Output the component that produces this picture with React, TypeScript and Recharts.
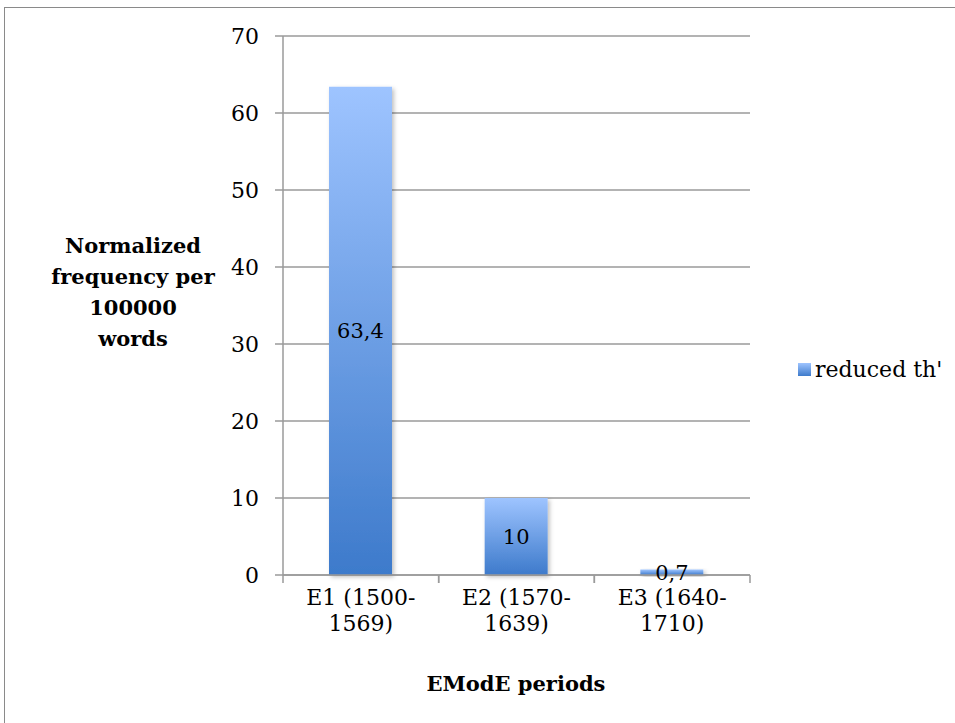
import React from 'react';
import { BarChart, Bar, XAxis, YAxis, CartesianGrid, Legend, LabelList } from 'recharts';

const periods = ['E1 (1500-1569)', 'E2 (1570-1639)', 'E3 (1640-1710)'];
const reducedTh = [63.4, 10, 0.7];
const yTicks = [0, 10, 20, 30, 40, 50, 60, 70];
const yLabelLines = ['Normalized', 'frequency per', '100000', 'words'];

const FONT = '"DejaVu Serif", serif';
const GRID = '#9a9a9a';

const chartData = periods.map((p, i) => ({ period: p, value: reducedTh[i] }));

const fmt = (v: any) => String(v).replace('.', ',');

// category label in two lines, plus tick marks at the category edges
const PeriodTick = (props: any) => {
  const { x, y, payload } = props;
  const half = payload.offset || 77.8;
  const txt: string = payload.value;
  const cut = txt.indexOf('-') + 1;
  const lines = [txt.slice(0, cut), txt.slice(cut)];
  return (
    <g>
      <line x1={x - half} x2={x - half} y1={y} y2={y + 8} stroke={GRID} strokeWidth={1.5} />
      <line x1={x + half} x2={x + half} y1={y} y2={y + 8} stroke={GRID} strokeWidth={1.5} />
      <text x={x} y={y} textAnchor="middle" fontFamily={FONT} fontSize={22} fill="#000">
        {lines.map((l, i) => (
          <tspan key={i} x={x} dy={i === 0 ? 30 : 26}>{l}</tspan>
        ))}
      </text>
    </g>
  );
};

const YLabel = () => (
  <text x={133} y={253} textAnchor="middle" fontFamily={FONT} fontSize={21} fontWeight="bold" fill="#000">
    {yLabelLines.map((l, i) => (
      <tspan key={i} x={133} dy={i === 0 ? 0 : 31}>{l}</tspan>
    ))}
  </text>
);

const XLabel = () => (
  <text x={516} y={691} textAnchor="middle" fontFamily={FONT} fontSize={21} fontWeight="bold" fill="#000">
    EModE periods
  </text>
);

const LegendBox = () => (
  <div style={{ display: 'flex', alignItems: 'center', fontFamily: FONT, fontSize: 22 }}>
    <span style={{ display: 'inline-block', width: 13, height: 13, marginRight: 4,
      background: 'linear-gradient(#9ec4ff, #3e7bcb)' }} />
    <span>reduced th'</span>
  </div>
);

export default function App() {
  return (
    <div style={{ position: 'absolute', left: 0, top: 0, width: 955, height: 723, background: '#fff' }}>
      <div style={{ position: 'absolute', left: 4, top: 7, width: 951, height: 716,
        borderLeft: '1px solid #8a8a8a', borderTop: '1px solid #8a8a8a' }} />
      <BarChart width={955} height={723} data={chartData}
        margin={{ top: 36, right: 205, bottom: 68, left: 0 }} barSize={63}>
        <defs>
          <linearGradient id="barGrad" x1="0" y1="0" x2="0" y2="1">
            <stop offset="0%" stopColor="#9ec4ff" />
            <stop offset="100%" stopColor="#3d7acb" />
          </linearGradient>
          <filter id="barShadow" x="-20%" y="-20%" width="140%" height="140%">
            <feDropShadow dx="2" dy="2" stdDeviation="2" floodColor="#000" floodOpacity="0.25" />
          </filter>
        </defs>
        <CartesianGrid vertical={false} stroke={GRID} strokeWidth={1.5} />
        <XAxis dataKey="period" height={80} interval={0} tick={<PeriodTick />}
          tickSize={0} tickMargin={0}
          axisLine={{ stroke: GRID, strokeWidth: 1.5 }} tickLine={false}
          label={<XLabel />} />
        <YAxis width={283} domain={[0, 70]} ticks={yTicks} interval={0}
          tick={{ fontFamily: FONT, fontSize: 22, fill: '#000' }}
          tickSize={8} tickMargin={16}
          axisLine={{ stroke: GRID, strokeWidth: 1.5 }} tickLine={{ stroke: GRID, strokeWidth: 1.5 }}
          label={<YLabel />} />
        <Legend layout="horizontal" verticalAlign="middle" align="center" content={<LegendBox />}
          wrapperStyle={{ left: 798, top: 357, width: 'auto' }} />
        <Bar dataKey="value" name="reduced th'" fill="url(#barGrad)" filter="url(#barShadow)"
          isAnimationActive={false}>
          <LabelList dataKey="value" position="center" formatter={fmt}
            style={{ fontFamily: FONT, fontSize: 21, fill: '#000' }} />
        </Bar>
      </BarChart>
    </div>
  );
}
